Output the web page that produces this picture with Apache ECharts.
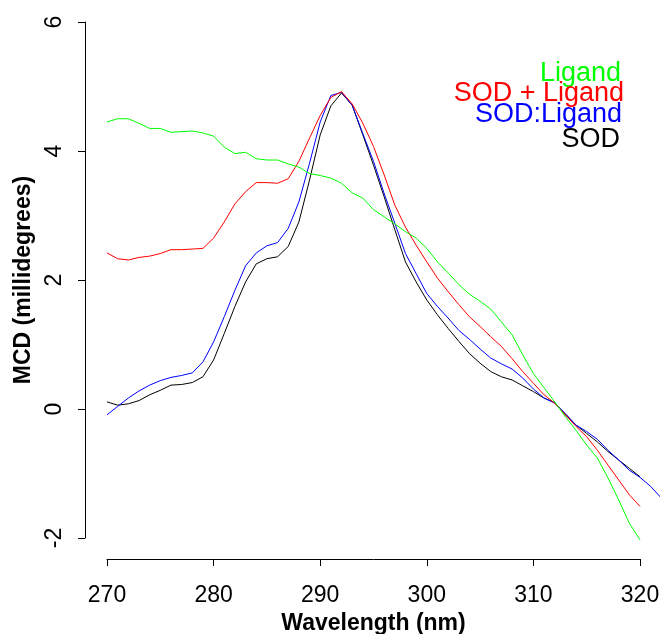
<!DOCTYPE html>
<html>
<head>
<meta charset="utf-8">
<title>MCD</title>
<script src="https://cdn.jsdelivr.net/npm/echarts@6/dist/echarts.min.js"></script>
<style>
  html, body { margin: 0; padding: 0; background: #fff; }
  #chart { width: 660px; height: 634px; }
</style>
</head>
<body>
<div id="chart"></div>
<script>
// wavelength (nm), one reading per nm
var wlStart = 270;
var xTicks = [270, 280, 290, 300, 310, 320];
var yTicks = [-2, 0, 2, 4, 6];
var dataXMax = 322;  // the SOD:Ligand scan runs a bit past the last tick

var ligand = [4.45, 4.50, 4.50, 4.43, 4.35, 4.35, 4.29, 4.30, 4.31, 4.28,
  4.23, 4.06, 3.96, 3.98, 3.88, 3.86, 3.86, 3.80, 3.75, 3.65,
  3.62, 3.58, 3.50, 3.35, 3.27, 3.09, 2.98, 2.87, 2.75, 2.65,
  2.49, 2.28, 2.11, 1.93, 1.78, 1.67, 1.55, 1.35, 1.15, 0.84,
  0.55, 0.33, 0.11, -0.12, -0.33, -0.56, -0.76, -1.07, -1.41, -1.77,
  -2.03];
var sodPlusLigand = [2.42, 2.33, 2.31, 2.35, 2.37, 2.41, 2.47, 2.47, 2.48, 2.49,
  2.65, 2.90, 3.18, 3.37, 3.51, 3.51, 3.50, 3.57, 3.84, 4.20,
  4.55, 4.83, 4.92, 4.73, 4.43, 4.07, 3.63, 3.16, 2.82, 2.54,
  2.28, 2.03, 1.82, 1.62, 1.43, 1.28, 1.12, 0.97, 0.78, 0.58,
  0.40, 0.22, 0.09, -0.09, -0.27, -0.43, -0.64, -0.87, -1.10, -1.33,
  -1.51];
var sodLigand = [-0.09, 0.04, 0.17, 0.28, 0.37, 0.44, 0.49, 0.52, 0.56, 0.73,
  1.04, 1.43, 1.84, 2.22, 2.42, 2.53, 2.58, 2.80, 3.21, 3.81,
  4.45, 4.86, 4.91, 4.71, 4.27, 3.84, 3.34, 2.88, 2.41, 2.10,
  1.79, 1.59, 1.41, 1.22, 1.08, 0.93, 0.79, 0.70, 0.62, 0.48,
  0.31, 0.17, 0.09, -0.07, -0.25, -0.35, -0.47, -0.64, -0.79, -0.95,
  -1.06, -1.20, -1.38];
var sod = [0.11, 0.06, 0.08, 0.13, 0.22, 0.29, 0.37, 0.38, 0.41, 0.50,
  0.76, 1.17, 1.59, 1.97, 2.25, 2.33, 2.36, 2.52, 2.90, 3.55,
  4.25, 4.70, 4.90, 4.71, 4.25, 3.78, 3.29, 2.78, 2.28, 1.97,
  1.69, 1.46, 1.25, 1.05, 0.86, 0.71, 0.58, 0.50, 0.45, 0.36,
  0.27, 0.17, 0.10, -0.09, -0.25, -0.38, -0.51, -0.66, -0.79, -0.92,
  -1.05];

function pairs(vals) {
  var out = [];
  for (var i = 0; i < vals.length; i++) {
    out.push([wlStart + i, vals[i]]);
  }
  return out;
}

var font = '"Liberation Sans", Arial, Helvetica, sans-serif';
var myChart = echarts.init(document.getElementById('chart'));

// grid 0 carries the visible axes (270..320), grid 1 the data (270..322, same scale)
var pxPerNm = (660 - 20 - 107) / (xTicks[xTicks.length - 1] - xTicks[0]);

function line(name, vals, color, z) {
  return {
    name: name,
    type: 'line',
    xAxisIndex: 1,
    yAxisIndex: 1,
    data: pairs(vals),
    symbol: 'none',
    clip: false,
    lineStyle: { color: color, width: 1 },
    z: z
  };
}

var sodSeries = line('SOD', sod, '#000', 2);
// abline(h = 0)
sodSeries.markLine = {
  silent: true,
  symbol: 'none',
  label: { show: false },
  lineStyle: { color: '#888', width: 1, type: 'solid' },
  data: [[{ coord: [267.9, 0] }, { coord: [dataXMax, 0] }]]
};

var option = {
  animation: false,
  backgroundColor: '#fff',
  grid: [
    { left: 107, right: 20, top: 22, bottom: 96, containLabel: false, outerBoundsMode: 'none' },
    { left: 107, width: pxPerNm * (dataXMax - xTicks[0]), top: 22, bottom: 96, containLabel: false, outerBoundsMode: 'none' }
  ],
  xAxis: [
    {
      type: 'value',
      gridIndex: 0,
      min: xTicks[0],
      max: xTicks[xTicks.length - 1],
      interval: 10,
      offset: 21,
      name: 'Wavelength (nm)',
      nameLocation: 'middle',
      nameGap: 42,
      nameTextStyle: { fontFamily: font, fontSize: 23, fontWeight: 'bold', color: '#000' },
      axisLine: { show: true, onZero: false, lineStyle: { color: '#000', width: 1 } },
      axisTick: { show: true, length: 7, lineStyle: { color: '#000' } },
      axisLabel: { fontFamily: font, fontSize: 23, color: '#000', margin: 25 },
      splitLine: { show: false }
    },
    {
      type: 'value',
      gridIndex: 1,
      min: xTicks[0],
      max: dataXMax,
      show: false
    }
  ],
  yAxis: [
    {
      type: 'value',
      gridIndex: 0,
      min: yTicks[0],
      max: yTicks[yTicks.length - 1],
      interval: 2,
      offset: 22,
      name: 'MCD (millidegrees)',
      nameLocation: 'middle',
      nameGap: 44,
      nameTextStyle: { fontFamily: font, fontSize: 23, fontWeight: 'bold', color: '#000' },
      axisLine: { show: true, onZero: false, lineStyle: { color: '#000', width: 1 } },
      axisTick: { show: true, length: 7, lineStyle: { color: '#000' } },
      axisLabel: { fontFamily: font, fontSize: 23, color: '#000', rotate: 90, margin: 19 },
      splitLine: { show: false }
    },
    {
      type: 'value',
      gridIndex: 1,
      min: yTicks[0],
      max: yTicks[yTicks.length - 1],
      show: false
    }
  ],
  series: [
    sodSeries,
    line('SOD:Ligand', sodLigand, '#0000ff', 3),
    line('SOD + Ligand', sodPlusLigand, '#ff0000', 4),
    line('Ligand', ligand, '#00ff00', 5)
  ],
  graphic: [
    { type: 'text', right: 39, top: 60, style: { text: 'Ligand', fill: '#00ff00', font: '27px ' + font } },
    { type: 'text', right: 36, top: 80, style: { text: 'SOD + Ligand', fill: '#ff0000', font: '27px ' + font } },
    { type: 'text', right: 38, top: 101, style: { text: 'SOD:Ligand', fill: '#0000ff', font: '27px ' + font } },
    { type: 'text', right: 40, top: 126, style: { text: 'SOD', fill: '#000', font: '27px ' + font } }
  ]
};

myChart.setOption(option);
</script>
</body>
</html>
